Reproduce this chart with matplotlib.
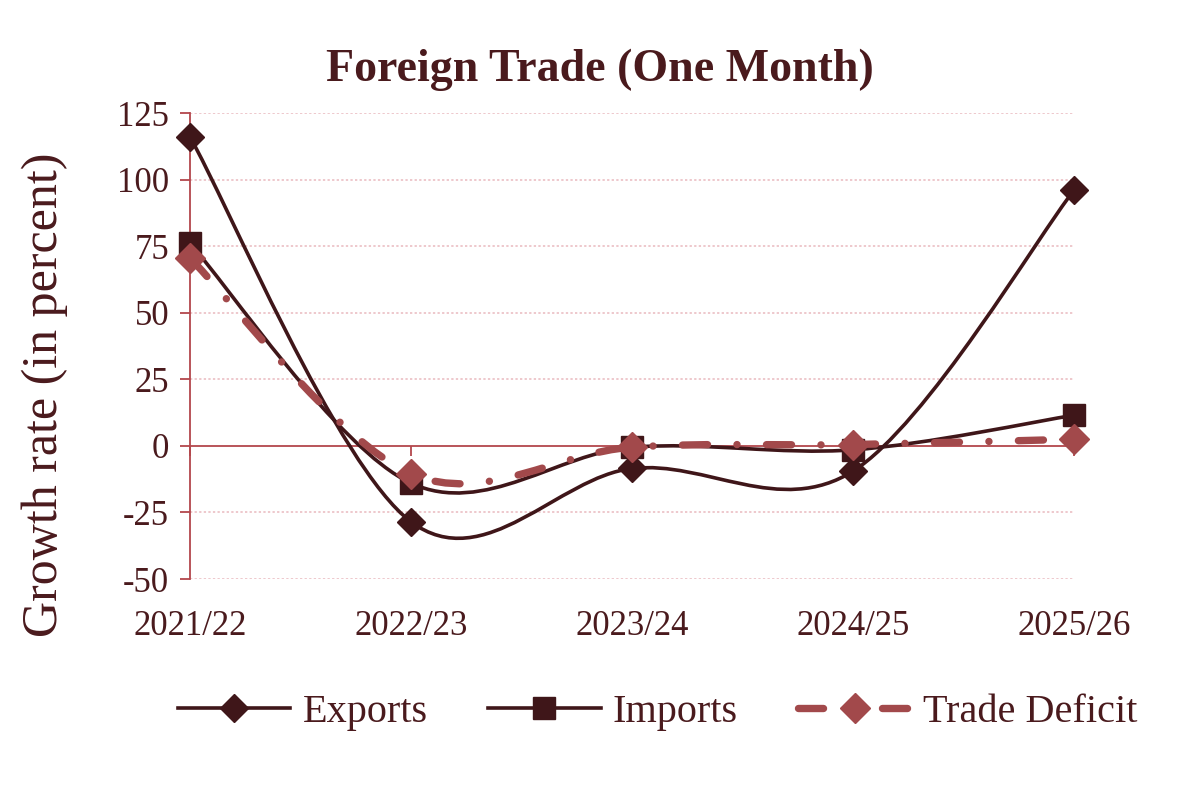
import matplotlib
matplotlib.use("Agg")
import matplotlib.pyplot as plt
from matplotlib.path import Path
from matplotlib.patches import PathPatch
from matplotlib.lines import Line2D

plt.rcParams['font.family'] = ['Liberation Serif', 'DejaVu Serif']
plt.rcParams['axes.unicode_minus'] = False

years = ['2021/22', '2022/23', '2023/24', '2024/25', '2025/26']
exports = [116, -28.5, -8.5, -9.5, 96]
imports = [76, -14, -0.5, -1.5, 11.5]
trade_deficit = [70.5, -10.5, -0.5, 0.5, 2.5]

dark = '#3f1619'
light = '#a2494b'
axis_red = '#b3474c'
grid_pink = '#e9b9bf'
text_col = '#4a1a1d'

td_dash = (0, (3.4, 4.0, 0.01, 4.0))


def smooth_path(xs, ys):
    # Excel-like smoothed line: cubic bezier, catmull-rom style control points
    n = len(xs)
    verts = [(xs[0], ys[0])]
    codes = [Path.MOVETO]
    for i in range(n - 1):
        i0 = max(i - 1, 0)
        i3 = min(i + 2, n - 1)
        c1 = (xs[i] + (xs[i + 1] - xs[i0]) / 6, ys[i] + (ys[i + 1] - ys[i0]) / 6)
        c2 = (xs[i + 1] - (xs[i3] - xs[i]) / 6, ys[i + 1] - (ys[i3] - ys[i]) / 6)
        verts += [c1, c2, (xs[i + 1], ys[i + 1])]
        codes += [Path.CURVE4] * 3
    return Path(verts, codes)


fig = plt.figure(figsize=(12, 8), dpi=100)
ax = fig.add_axes([0.1583, 0.27625, 0.895 - 0.1583, 0.85875 - 0.27625])

x = list(range(len(years)))

# gridlines
for g in [-50, -25, 25, 50, 75, 100, 125]:
    ax.axhline(g, color=grid_pink, lw=1.1, ls=(0, (1.5, 1.5)), zorder=1)

# smoothed lines
ax.add_patch(PathPatch(smooth_path(x, exports), fill=False, edgecolor=dark,
                       lw=2.6, zorder=3, clip_on=False))
ax.add_patch(PathPatch(smooth_path(x, imports), fill=False, edgecolor=dark,
                       lw=2.6, zorder=3, clip_on=False))
td = PathPatch(smooth_path(x, trade_deficit), fill=False, edgecolor=light,
               lw=5.3, zorder=4, clip_on=False, capstyle='round')
td.set_linestyle(td_dash)
ax.add_patch(td)

# markers
ax.plot(x, exports, ls='none', marker='D', ms=14, color=dark, zorder=5, clip_on=False)
ax.plot(x, imports, ls='none', marker='s', ms=16, color=dark, zorder=5, clip_on=False)
ax.plot(x, trade_deficit, ls='none', marker='D', ms=15, color=light, zorder=6, clip_on=False)

ax.set_xlim(0, 4)
ax.set_ylim(-50, 125)
ax.set_yticks([-50, -25, 0, 25, 50, 75, 100, 125])
ax.set_xticks(x)
ax.set_xticklabels(years)

for s in ['top', 'right']:
    ax.spines[s].set_visible(False)
ax.spines['left'].set_color(axis_red)
ax.spines['left'].set_linewidth(1.3)
ax.spines['bottom'].set_position(('data', 0))
ax.spines['bottom'].set_color(axis_red)
ax.spines['bottom'].set_linewidth(1.3)

ax.tick_params(axis='y', direction='out', length=7, width=1.3, color=axis_red,
               labelsize=25, labelcolor=text_col, pad=8)
ax.tick_params(axis='x', direction='out', length=7, width=1.3, color=axis_red,
               labelsize=25, labelcolor=text_col, pad=111)

fig.text(0.5, 1 - 70 / 800, 'Foreign Trade (One Month)', ha='center', va='center',
         fontsize=33, fontweight='bold', color=text_col)
fig.text(45 / 1200, 1 - 395 / 800, 'Growth rate (in percent)', ha='center', va='center',
         rotation=90, fontsize=36, color=text_col)

handles = [
    Line2D([], [], color=dark, lw=2.6, marker='D', ms=14),
    Line2D([], [], color=dark, lw=2.6, marker='s', ms=16),
    Line2D([], [], color=light, lw=5.3, marker='D', ms=15,
           ls=td_dash, solid_capstyle='round', dash_capstyle='round'),
]
fig.legend(handles, ['Exports', 'Imports', 'Trade Deficit'], loc='center',
           bbox_to_anchor=(0.548, 1 - 712 / 800), ncol=3, frameon=False,
           fontsize=29, labelcolor=text_col, handlelength=2.8, handletextpad=0.3,
           columnspacing=1.5)

fig.savefig('out.png', dpi=100)
